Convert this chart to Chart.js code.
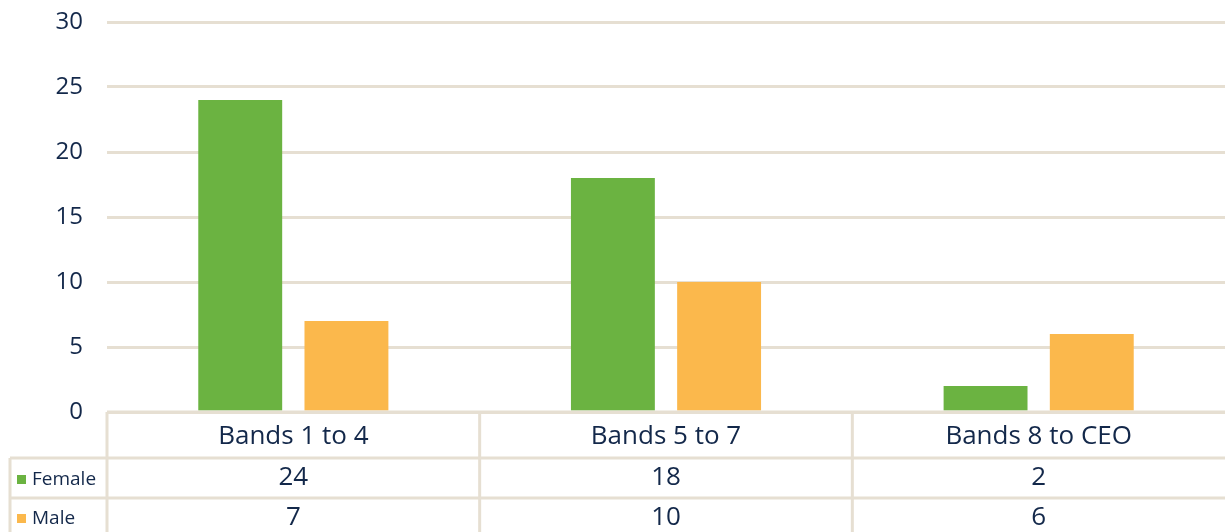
<!DOCTYPE html>
<html>
<head>
<meta charset="utf-8">
<script src="https://cdn.jsdelivr.net/npm/chart.js@4/dist/chart.umd.min.js"></script>
<style>
  html, body { margin: 0; padding: 0; background: #fff; }
  #wrap { width: 1225px; height: 532px; position: relative; }
</style>
</head>
<body>
<div id="wrap"><canvas id="bands-chart"></canvas></div>
<script>
// Headcount by band
const bands = ['Bands 1 to 4', 'Bands 5 to 7', 'Bands 8 to CEO']
const female = [24, 18, 2]
const male = [7, 10, 6]
const yTicks = [0, 5, 10, 15, 20, 25, 30]

const GREEN = '#6bb341'
const ORANGE = '#fbb84c'
const INK = '#13284a'
const RULE = '#e6dfd2'
const FONT = '"Open Sans", "Noto Sans", sans-serif'

// data table under the plot, aligned to the category scale
const dataTable = {
  id: 'dataTable',
  afterDraw(chart) {
    const { ctx, chartArea: area, scales: { x } } = chart
    const catW = (area.right - area.left) / bands.length
    const top = area.bottom
    const rowHead = top + 46
    const rowF = rowHead + 40
    const bottom = chart.height
    const legendLeft = 10

    ctx.save()
    ctx.strokeStyle = RULE
    ctx.lineWidth = 3
    ctx.beginPath()
    // horizontal rules
    ctx.moveTo(area.left, top); ctx.lineTo(area.right, top)
    ctx.moveTo(legendLeft, rowHead); ctx.lineTo(area.right, rowHead)
    ctx.moveTo(legendLeft, rowF); ctx.lineTo(area.right, rowF)
    // vertical rules
    ctx.moveTo(legendLeft, rowHead); ctx.lineTo(legendLeft, bottom)
    for (let i = 0; i < bands.length; i++) {
      const lx = x.getPixelForValue(i) - catW / 2
      ctx.moveTo(lx, top); ctx.lineTo(lx, bottom)
    }
    ctx.stroke()

    ctx.fillStyle = INK
    ctx.textAlign = 'center'
    ctx.textBaseline = 'middle'
    ctx.font = `26px ${FONT}`
    bands.forEach((b, i) => {
      const cx = x.getPixelForValue(i)
      ctx.fillText(b, cx, (top + rowHead) / 2 + 2)
      ctx.fillText(String(female[i]), cx, (rowHead + rowF) / 2)
      ctx.fillText(String(male[i]), cx, (rowF + bottom) / 2 + 3)
    })

    // series keys
    ctx.textAlign = 'left'
    ctx.font = `19px ${FONT}`
    const keys = [[GREEN, 'Female', (rowHead + rowF) / 2 + 2], [ORANGE, 'Male', (rowF + bottom) / 2 + 4]]
    keys.forEach(([c, label, cy]) => {
      ctx.fillStyle = c
      ctx.fillRect(legendLeft + 7, cy - 5, 9, 9)
      ctx.fillStyle = INK
      ctx.fillText(label, legendLeft + 22, cy)
    })
    ctx.restore()
  }
}

new Chart(document.getElementById('bands-chart'), {
  type: 'bar',
  data: {
    labels: bands,
    datasets: [
      { label: 'Female', data: female, backgroundColor: GREEN },
      { label: 'Male', data: male, backgroundColor: ORANGE },
    ],
  },
  options: {
    responsive: true,
    maintainAspectRatio: false,
    animation: false,
    categoryPercentage: 0.57,
    barPercentage: 0.79,
    layout: { padding: { top: 22, bottom: 120, left: 0, right: 0 } },
    plugins: { legend: { display: false }, tooltip: { enabled: false } },
    scales: {
      x: { display: false },
      y: {
        min: 0,
        max: 30,
        afterBuildTicks: s => { s.ticks = yTicks.map(v => ({ value: v })) },
        afterFit: s => { s.width = 107; s.paddingTop = 0; s.paddingBottom = 0 },
        border: { display: false },
        grid: { color: RULE, lineWidth: 3, drawTicks: false },
        ticks: { color: INK, font: { size: 24, family: FONT }, padding: 24 },
      },
    },
  },
  plugins: [dataTable],
})
</script>
</body>
</html>
